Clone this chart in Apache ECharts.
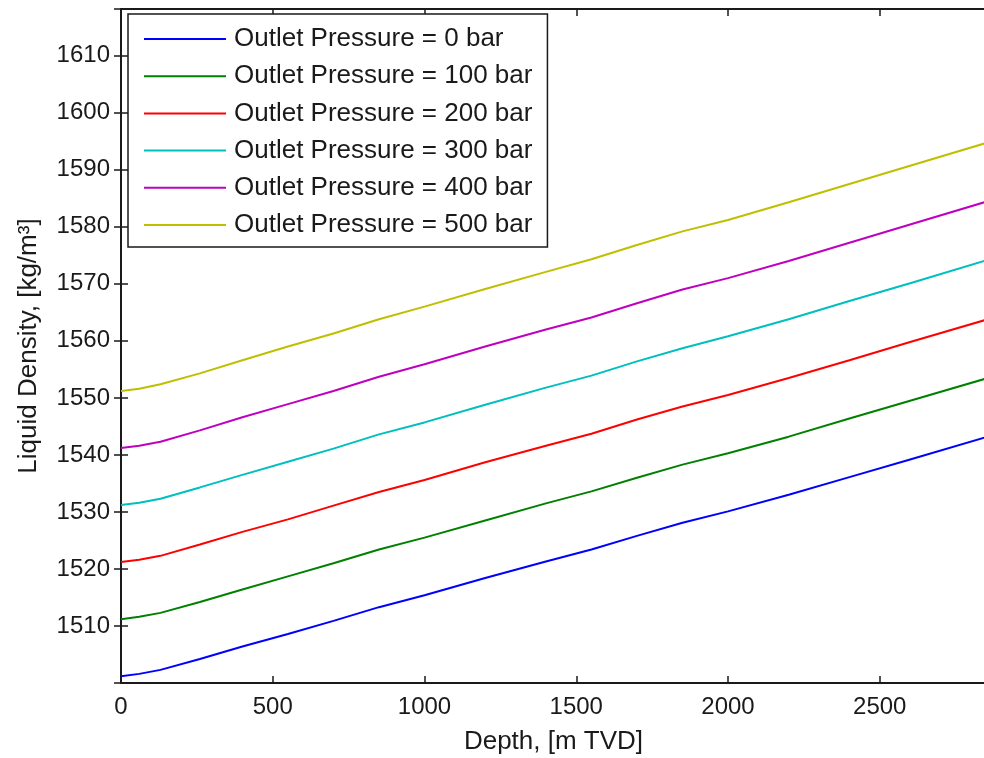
<!DOCTYPE html>
<html>
<head>
<meta charset="utf-8">
<script src="https://cdn.jsdelivr.net/npm/echarts@6/dist/echarts.min.js"></script>
<style>
html,body{margin:0;padding:0;background:#fff;}
#chart{width:984px;height:758px;}
</style>
</head>
<body>
<div id="chart"></div>
<script>
// Depth, [m TVD]
var depth = [0, 60, 130, 260, 400, 550, 700, 850, 1000, 1200, 1400, 1550, 1700, 1850, 2000, 2200, 2400, 2600, 2850];
// Liquid density, [kg/m3] for each outlet pressure
var p0   = [1501.2, 1501.6, 1502.3, 1504.2, 1506.4, 1508.6, 1510.9, 1513.3, 1515.4, 1518.4, 1521.3, 1523.4, 1525.8, 1528.1, 1530.1, 1533.0, 1536.1, 1539.2, 1543.1];
var p100 = [1511.2, 1511.6, 1512.3, 1514.2, 1516.4, 1518.7, 1521.0, 1523.4, 1525.5, 1528.5, 1531.5, 1533.6, 1536.0, 1538.3, 1540.3, 1543.2, 1546.4, 1549.5, 1553.4];
var p200 = [1521.2, 1521.6, 1522.3, 1524.3, 1526.5, 1528.7, 1531.1, 1533.5, 1535.6, 1538.7, 1541.6, 1543.7, 1546.2, 1548.5, 1550.5, 1553.5, 1556.6, 1559.8, 1563.7];
var p300 = [1531.2, 1531.6, 1532.3, 1534.3, 1536.5, 1538.8, 1541.1, 1543.6, 1545.7, 1548.8, 1551.8, 1553.9, 1556.4, 1558.7, 1560.8, 1563.8, 1567.0, 1570.1, 1574.1];
var p400 = [1541.2, 1541.6, 1542.3, 1544.3, 1546.6, 1548.9, 1551.2, 1553.7, 1555.9, 1559.0, 1562.0, 1564.1, 1566.6, 1569.0, 1571.0, 1574.0, 1577.2, 1580.4, 1584.4];
var p500 = [1551.2, 1551.6, 1552.4, 1554.3, 1556.6, 1559.0, 1561.3, 1563.8, 1566.0, 1569.1, 1572.1, 1574.3, 1576.8, 1579.2, 1581.2, 1584.3, 1587.5, 1590.7, 1594.7];
var seriesNames = ['Outlet Pressure = 0 bar', 'Outlet Pressure = 100 bar', 'Outlet Pressure = 200 bar',
                   'Outlet Pressure = 300 bar', 'Outlet Pressure = 400 bar', 'Outlet Pressure = 500 bar'];
var seriesValues = [p0, p100, p200, p300, p400, p500];
var colors = ['#0000ff', '#008000', '#ff0000', '#00bfbf', '#bf00bf', '#bfbf00'];

var FONT = '"Liberation Sans", Arial, sans-serif';
var TXT = '#1a1a1a';

function pairs(xs, ys) { return xs.map(function (x, i) { return [x, ys[i]]; }); }
function plain(v) { return String(v); }

var chart = echarts.init(document.getElementById('chart'), null, {renderer: 'canvas'});
var axisLine = {show: true, lineStyle: {color: '#1a1a1a', width: 2}};
var tick = {show: true, inside: true, length: 7, lineStyle: {color: '#1a1a1a', width: 1.5}};

chart.setOption({
  animation: false,
  backgroundColor: '#fff',
  textStyle: {fontFamily: FONT},
  grid: {left: 121, top: 9, right: -2, bottom: 75, containLabel: false, outerBoundsMode: 'none'},
  legend: {
    orient: 'vertical',
    left: 128, top: 14,
    padding: [12, 15, 9, 15],
    itemWidth: 82, itemHeight: 26, itemGap: 11.2,
    itemStyle: {opacity: 0},
    borderColor: '#1a1a1a', borderWidth: 1.5,
    backgroundColor: '#fff',
    textStyle: {fontFamily: FONT, fontSize: 26, color: TXT, padding: [0, 0, 0, 3]},
    data: seriesNames
  },
  xAxis: [{
    type: 'value', position: 'bottom', min: 0, max: 2850, interval: 500,
    axisLine: axisLine, axisTick: tick, splitLine: {show: false},
    axisLabel: {fontFamily: FONT, fontSize: 24, color: TXT, margin: 12, showMaxLabel: false, formatter: plain},
    name: 'Depth, [m TVD]', nameLocation: 'middle', nameGap: 46,
    nameTextStyle: {fontFamily: FONT, fontSize: 26, color: TXT}
  }, {
    type: 'value', position: 'top', min: 0, max: 2850, interval: 500,
    axisLine: axisLine, axisTick: tick, splitLine: {show: false},
    axisLabel: {show: false}
  }],
  yAxis: [{
    type: 'value', position: 'left', min: 1500, max: 1618.2, interval: 10,
    axisLine: axisLine, axisTick: tick, splitLine: {show: false},
    axisLabel: {fontFamily: FONT, fontSize: 24, color: TXT, margin: 11, showMinLabel: false, showMaxLabel: false, formatter: plain},
    name: 'Liquid Density, [kg/m\u00b3]', nameLocation: 'middle', nameGap: 79,
    nameTextStyle: {fontFamily: FONT, fontSize: 26, color: TXT}
  }, {
    type: 'value', position: 'right', min: 1500, max: 1618.2, interval: 10,
    axisLine: axisLine, axisTick: tick, splitLine: {show: false},
    axisLabel: {show: false}
  }],
  series: seriesNames.map(function (n, i) {
    return {
      name: n, type: 'line', xAxisIndex: 0, yAxisIndex: 0,
      data: pairs(depth, seriesValues[i]),
      symbol: 'none', showSymbol: false,
      lineStyle: {color: colors[i], width: 2},
      itemStyle: {color: colors[i]},
      z: 2
    };
  })
});
</script>
</body>
</html>
